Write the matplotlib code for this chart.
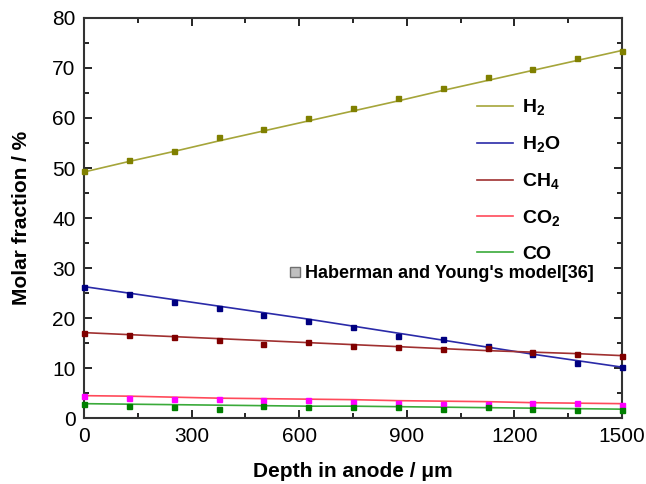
import matplotlib
matplotlib.use("Agg")
import matplotlib.pyplot as plt
from matplotlib.lines import Line2D
from matplotlib.ticker import MultipleLocator

plt.rcParams['font.family'] = ['Liberation Sans', 'DejaVu Sans']
plt.rcParams['mathtext.fontset'] = 'custom'
plt.rcParams['mathtext.rm'] = 'Liberation Sans'
plt.rcParams['mathtext.bf'] = 'Liberation Sans:bold'

depth = [0, 125, 250, 375, 500, 625, 750, 875, 1000, 1125, 1250, 1375, 1500]

h2_pts = [49.4, 51.7, 53.4, 56.1, 57.7, 60.0, 62.0, 64.0, 66.0, 68.1, 69.8, 71.9, 73.3]
h2o_pts = [26.3, 24.8, 23.3, 22.1, 20.7, 19.5, 18.2, 16.4, 15.9, 14.4, 12.9, 11.0, 10.3]
ch4_pts = [17.1, 16.6, 16.2, 15.7, 14.9, 15.2, 14.5, 14.3, 13.8, 14.1, 13.3, 12.9, 12.4]
co2_pts = [4.5, 4.1, 3.8, 3.8, 3.7, 3.7, 3.3, 3.1, 2.9, 2.9, 3.1, 3.1, 2.7]
co_pts = [2.9, 2.4, 2.2, 1.9, 2.4, 2.2, 2.2, 2.2, 1.9, 2.2, 1.9, 1.7, 1.7]

h2_line = [49.2, 51.3, 53.3, 55.4, 57.4, 59.4, 61.4, 63.4, 65.5, 67.5, 69.5, 71.5, 73.5]
h2o_line = [26.3, 25.0, 23.7, 22.4, 21.1, 19.8, 18.4, 17.0, 15.6, 14.2, 12.8, 11.5, 10.2]
ch4_line = [17.1, 16.7, 16.3, 15.9, 15.5, 15.1, 14.7, 14.3, 13.9, 13.5, 13.2, 12.9, 12.5]
co2_line = [4.5, 4.4, 4.2, 4.0, 3.9, 3.8, 3.7, 3.5, 3.4, 3.3, 3.1, 3.0, 2.9]
co_line = [2.9, 2.8, 2.7, 2.6, 2.5, 2.4, 2.4, 2.3, 2.2, 2.1, 2.0, 1.9, 1.8]

labels = [r'H$_\mathbf{2}$', r'H$_\mathbf{2}$O', r'CH$_\mathbf{4}$', r'CO$_\mathbf{2}$', 'CO']
line_colors = ['#a5a53a', '#2a2aa8', '#a03030', '#ff4a5a', '#3aaa3a']
pt_colors = ['#808000', '#000080', '#800000', '#ff00ff', '#008000']

fig = plt.figure(figsize=(6.46, 4.84), dpi=100)
ax = fig.add_axes([0.130, 0.136, 0.833, 0.827])

series_pts = [h2_pts, h2o_pts, ch4_pts, co2_pts, co_pts]
series_line = [h2_line, h2o_line, ch4_line, co2_line, co_line]
handles = []
for lab, lc, pc, p, l in zip(labels, line_colors, pt_colors, series_pts, series_line):
    ax.plot(depth, l, color=lc, lw=1.2, zorder=2)
    ax.plot(depth, p, ls='none', marker='s', ms=3.6, color=pc, zorder=3, clip_on=False)
    handles.append(Line2D([0], [0], color=lc, lw=1.2))

ax.set_xlim(0, 1500)
ax.set_ylim(0, 80)
ax.xaxis.set_major_locator(MultipleLocator(300))
ax.xaxis.set_minor_locator(MultipleLocator(150))
ax.yaxis.set_major_locator(MultipleLocator(10))
ax.yaxis.set_minor_locator(MultipleLocator(5))
ax.tick_params(which='both', direction='in', top=True, right=True, labelsize=15, pad=6)
ax.tick_params(which='major', length=6, width=1.2)
ax.tick_params(which='minor', length=3.5, width=1.2)
for s in ax.spines.values():
    s.set_linewidth(1.5)
    s.set_color('#333333')

ax.set_xlabel('Depth in anode / μm', fontsize=15, fontweight='bold', labelpad=12)
ax.set_ylabel('Molar fraction / %', fontsize=15, fontweight='bold', labelpad=15)

leg1 = ax.legend(handles, labels, loc='upper left', bbox_to_anchor=(0.715, 0.82),
                 frameon=False, prop={'size': 14, 'weight': 'bold'},
                 handlelength=1.9, handletextpad=0.45, labelspacing=0.85, borderaxespad=0)
ax.add_artist(leg1)
sq = Line2D([0], [0], ls='none', marker='s', ms=7.5, markerfacecolor='#c0c0c0',
            markeredgecolor='#707070')
ax.legend([sq], ["Haberman and Young's model[36]"], loc='upper left',
          bbox_to_anchor=(0.3675, 0.40), frameon=False,
          prop={'size': 13, 'weight': 'bold'}, handlelength=0.7,
          handletextpad=0.2, borderaxespad=0)

fig.savefig('out.png', dpi=100)
